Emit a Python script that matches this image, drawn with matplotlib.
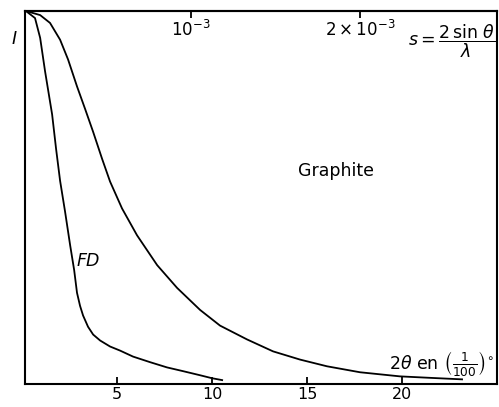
import numpy as np
from matplotlib import pyplot as plt

# 2theta in 1/100 degree, intensity normalised to 1 at the origin
fd_x = [0.2, 0.68, 0.95, 1.21, 1.58, 1.79, 2.0, 2.26, 2.53, 2.74, 2.89, 3.05, 3.21, 3.47,
        3.74, 4.11, 4.63, 5.16, 5.84, 6.74, 7.63, 8.47, 9.37, 10.0, 10.53]
fd_y = [1.0, 0.981, 0.928, 0.838, 0.723, 0.630, 0.545, 0.463, 0.372, 0.306, 0.245, 0.210, 0.184, 0.154,
        0.133, 0.117, 0.101, 0.090, 0.074, 0.059, 0.045, 0.035, 0.024, 0.016, 0.011]

graphite_x = [0.2, 0.95, 1.47, 2.0, 2.42, 2.89, 3.32, 3.74, 4.21, 4.63, 5.26, 6.05, 7.11, 8.16,
              9.37, 10.42, 11.84, 13.21, 14.63, 16.05, 17.79, 19.89, 21.5, 23.16]
graphite_y = [1.0, 0.989, 0.968, 0.923, 0.870, 0.798, 0.737, 0.676, 0.604, 0.543, 0.471, 0.399, 0.319, 0.258,
              0.199, 0.157, 0.120, 0.088, 0.066, 0.048, 0.032, 0.021, 0.017, 0.013]

bottom_ticks = [5, 10, 15, 20]
top_ticks = [1e-3, 2e-3]
top_labels = [r"$10^{-3}$", r"$2\times10^{-3}$"]

# conversion 2theta (1/100 deg) -> s = 2 sin(theta)/lambda
S_SCALE = 8.9e3


def to_s(x):
    return np.asarray(x) / S_SCALE


def from_s(s):
    return np.asarray(s) * S_SCALE


def main():
    plt.rcParams["font.family"] = ["DejaVu Sans"]
    fig = plt.figure(figsize=(4.99, 4.07), dpi=100)
    ax = fig.add_axes([0.050, 0.056, 0.946, 0.917])

    ax.plot(fd_x, fd_y, color="black", lw=1.3, solid_joinstyle="round")
    ax.plot(graphite_x, graphite_y, color="black", lw=1.3, solid_joinstyle="round")

    ax.set_xlim(0.15, 25.0)
    ax.set_ylim(0, 1.0)
    ax.set_xticks(bottom_ticks)
    ax.set_xticklabels([str(t) for t in bottom_ticks], fontsize=11.5)
    ax.tick_params(axis="x", direction="in", length=5, width=1.3, pad=2)
    ax.set_yticks([])
    for sp in ax.spines.values():
        sp.set_linewidth(1.5)

    sec = ax.secondary_xaxis("top", functions=(to_s, from_s))
    sec.set_xticks(top_ticks)
    sec.set_xticklabels(top_labels, fontsize=12)
    sec.tick_params(direction="in", length=5, width=1.3, pad=-21)
    sec.spines["top"].set_linewidth(1.5)

    ax.text(-0.022, 0.925, "I", transform=ax.transAxes, ha="center", va="center",
            fontsize=12.5, style="italic")
    ax.text(0.997, 0.92, r"$s=\dfrac{2\,\sin\,\theta}{\lambda}$", transform=ax.transAxes,
            ha="right", va="center", fontsize=12.5)
    ax.text(16.5, 0.572, "Graphite", ha="center", va="center", fontsize=12.5)
    ax.text(2.85, 0.33, "FD", ha="left", va="center", fontsize=12.5, style="italic")
    ax.text(0.993, 0.055, r"$2\theta$ en $\left(\frac{1}{100}\right)^{\circ}$",
            transform=ax.transAxes, ha="right", va="center", fontsize=12.5)

    fig.savefig("out.png", dpi=100)


if __name__ == "__main__":
    main()
